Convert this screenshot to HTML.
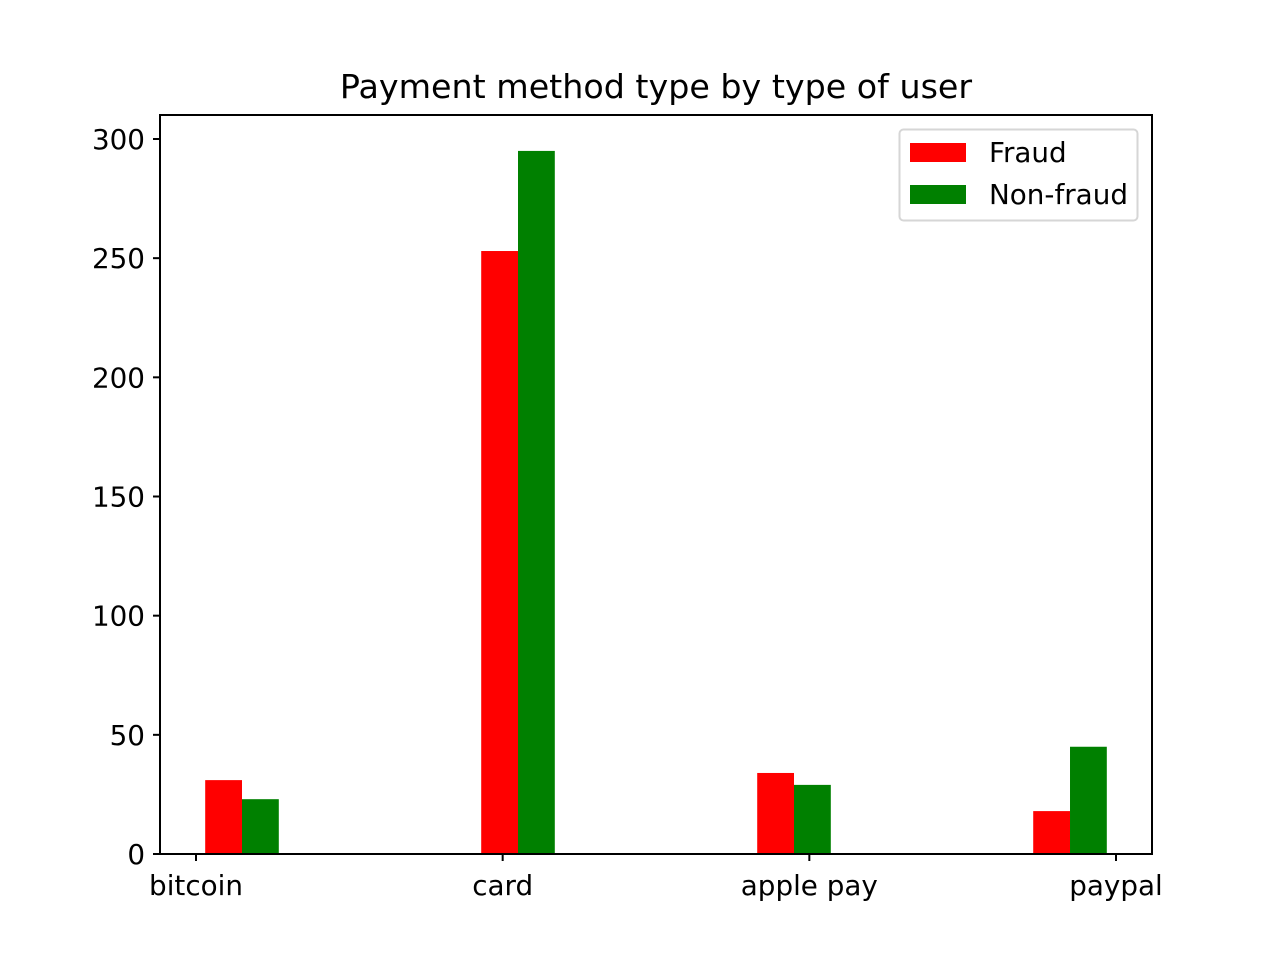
<!DOCTYPE html>
<html><head><meta charset="utf-8"><style>
body{margin:0;background:#fff;}
svg text{font-family:"DejaVu Sans","Liberation Sans",sans-serif;fill:#000;}
</style></head><body>
<svg id="chart" width="1280" height="960" xmlns="http://www.w3.org/2000/svg">
<rect width="1280" height="960" fill="#fff"/>
<text x="656" y="98" font-size="33.3" text-anchor="middle">Payment method type by type of user</text>
<g id="bars"></g>
<g id="axes"></g>
<rect x="160" y="115" width="992" height="739" fill="none" stroke="#000" stroke-width="2"/>
<g>
<rect x="899.5" y="129.5" width="238" height="91" rx="4" fill="#fff" fill-opacity="0.8" stroke="#d6d6d6" stroke-width="2"/>
<rect x="910" y="143" width="56" height="19" fill="#ff0000"/>
<text x="989" y="162" font-size="27.8">Fraud</text>
<rect x="910" y="185" width="56" height="19" fill="#008000"/>
<text x="989" y="204" font-size="27.8">Non-fraud</text>
</g>
</svg>
<script>
const categories = ["bitcoin","card","apple pay","paypal"];
const fraudValues = [31,253,34,18];
const nonFraudValues = [23,295,29,45];
const yTicks = [0,50,100,150,200,250,300];

const NS="http://www.w3.org/2000/svg";
const unit = 306.67;
const xScale = i => 196 + i*unit;
const yScale = v => 854 - v*(715/300);
const barW = 0.12*unit;
const bars=document.getElementById('bars'), axes=document.getElementById('axes');
function mk(tag,attrs,parent){const e=document.createElementNS(NS,tag);for(const k in attrs)e.setAttribute(k,attrs[k]);parent.appendChild(e);return e;}
categories.forEach((c,i)=>{
  const x0=xScale(i*0.9+0.03);
  const r1=mk('rect',{x:x0,y:yScale(fraudValues[i]),width:barW,height:yScale(0)-yScale(fraudValues[i]),fill:'#ff0000'},bars);
  
  
  const r2=mk('rect',{x:x0+barW,y:yScale(nonFraudValues[i]),width:barW,height:yScale(0)-yScale(nonFraudValues[i]),fill:'#008000'},bars);
  
  
  const t=mk('line',{x1:xScale(i),x2:xScale(i),y1:854,y2:861,stroke:'#000','stroke-width':2},axes);
  
  
  const l=mk('text',{x:xScale(i),y:895,'font-size':27.8,'text-anchor':'middle'},axes);
  l.textContent=c;
  
  
});
yTicks.forEach(v=>{
  const t=mk('line',{x1:153,x2:160,y1:yScale(v),y2:yScale(v),stroke:'#000','stroke-width':2},axes);
  
  
  const l=mk('text',{x:145,y:yScale(v)+10,'font-size':27.8,'text-anchor':'end'},axes);
  l.textContent=v;
  
  
});
</script>
</body></html>
